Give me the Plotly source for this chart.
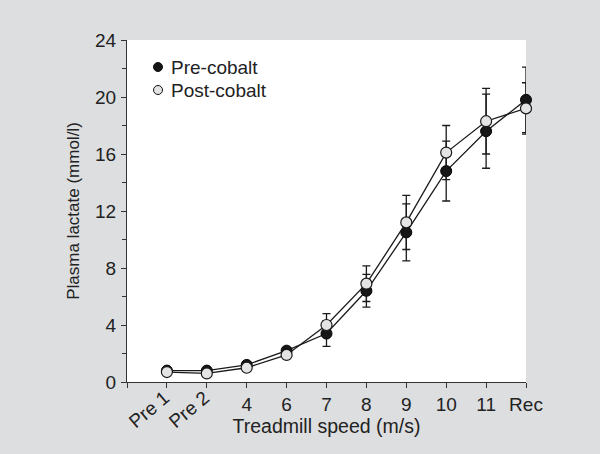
import plotly.graph_objects as go

categories = ["Pre 1", "Pre 2", "4", "6", "7", "8", "9", "10", "11", "Rec"]
pre_cobalt = [0.8, 0.8, 1.2, 2.2, 3.4, 6.4, 10.5, 14.8, 17.6, 19.8]
pre_err = [0.15, 0.15, 0.2, 0.2, 0.9, 1.15, 2.0, 2.1, 2.6, 2.3]
post_cobalt = [0.7, 0.6, 1.0, 1.9, 4.0, 6.9, 11.2, 16.1, 18.3, 19.2]
post_err = [0.15, 0.15, 0.2, 0.2, 0.8, 1.25, 1.9, 1.9, 2.3, 1.8]
y_ticks = [0, 4, 8, 12, 16, 20, 24]
y_minor = [2, 6, 10, 14, 18, 22]
legend_names = ["Pre-cobalt", "Post-cobalt"]
x_title = "Treadmill speed (m/s)"
y_title = "Plasma lactate (mmol/l)"

FONT = "Liberation Sans, Arial, sans-serif"
TXT = "#222222"
PRE_FILL = "#161616"
POST_FILL = "#e4e4e4"
xi = list(range(len(categories)))

fig = go.Figure()
fig.add_trace(go.Scatter(
    x=xi, y=pre_cobalt, mode="lines+markers", name=legend_names[0], showlegend=False,
    line=dict(color="#1a1a1a", width=1.3),
    marker=dict(size=11, color=PRE_FILL, line=dict(color="#000", width=1)),
    error_y=dict(type="data", array=pre_err, color="#1a1a1a", thickness=1.3, width=4),
    cliponaxis=False))
fig.add_trace(go.Scatter(
    x=xi, y=post_cobalt, mode="lines+markers", name=legend_names[1], showlegend=False,
    line=dict(color="#1a1a1a", width=1.3),
    marker=dict(size=11, color=POST_FILL, line=dict(color="#1a1a1a", width=1.2)),
    error_y=dict(type="data", array=post_err, color="#1a1a1a", thickness=1.3, width=4),
    cliponaxis=False))

ticktext = ["" if c.startswith("Pre") else c for c in categories]
fig.update_xaxes(
    range=[-1, len(categories) - 1], tickmode="array",
    tickvals=[-1] + xi, ticktext=[""] + ticktext,
    showgrid=False, zeroline=False, showline=True, linecolor="#333", linewidth=1,
    ticks="outside", ticklen=5, tickcolor="#333", tickwidth=1, ticklabelstandoff=0,
    tickfont=dict(family=FONT, size=19, color=TXT),
    title=dict(text=x_title, font=dict(family=FONT, size=19.5, color=TXT), standoff=5))
fig.update_yaxes(
    range=[0, 24], tickmode="array", tickvals=y_ticks,
    showgrid=False, zeroline=False, showline=True, linecolor="#333", linewidth=1,
    ticks="outside", ticklen=5, tickcolor="#333", tickwidth=1, ticklabelstandoff=1,
    minor=dict(tickmode="array", tickvals=y_minor, ticks="outside", ticklen=4, tickcolor="#333"),
    tickfont=dict(family=FONT, size=19, color=TXT),
    title=dict(text=y_title, font=dict(family=FONT, size=17, color=TXT), standoff=11))

for i, c in enumerate(categories):
    if c.startswith("Pre"):
        fig.add_annotation(x=i - 0.45, y=-27 / 342, xref="x", yref="paper", text=c, showarrow=False,
                           xanchor="center", yanchor="middle",
                           textangle=-40, font=dict(family=FONT, size=19, color=TXT))

# legend (marker + text) placed at reference positions
leg_px = [(158, 67), (158, 90)]
for (px, py), name, fill in zip(leg_px, legend_names, [PRE_FILL, POST_FILL]):
    xa = (px - 127) / 399
    ya = (382 - py) / 342
    fig.add_shape(type="circle", xref="paper", yref="paper", xsizemode="pixel", ysizemode="pixel",
                  xanchor=xa, yanchor=ya, x0=-4.5, x1=4.5, y0=-4.5, y1=4.5,
                  fillcolor=fill, line=dict(color="#111", width=1))
    fig.add_annotation(x=(169 - 127) / 399, y=ya, xref="paper", yref="paper", text=name,
                       showarrow=False, xanchor="left", yanchor="middle",
                       font=dict(family=FONT, size=19, color=TXT))

fig.update_layout(
    width=600, height=454,
    margin=dict(l=127, r=74, t=40, b=72),
    paper_bgcolor="#dddee0", plot_bgcolor="#ffffff",
    showlegend=False,
)
fig.write_html("out.html")
